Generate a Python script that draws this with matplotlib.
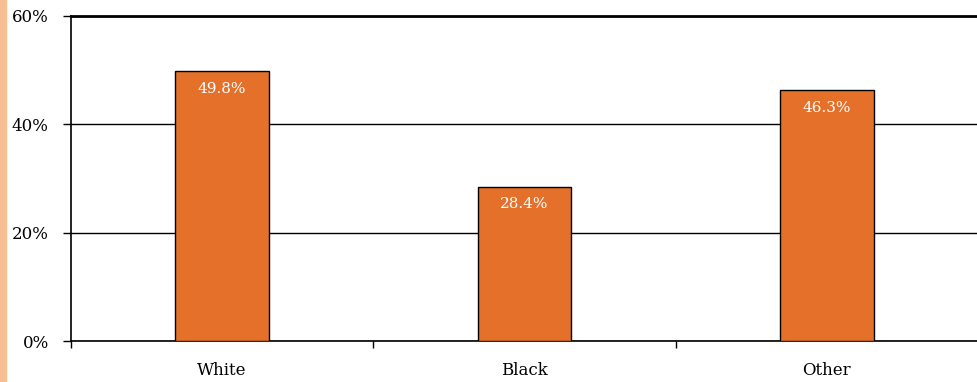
import matplotlib
matplotlib.use('Agg')
import matplotlib.pyplot as plt
from matplotlib.patches import Rectangle

# data
categories = ['White', 'Black', 'Other']
values = [49.8, 28.4, 46.3]
y_ticks = [0, 20, 40, 60]

plt.rcParams['font.family'] = ['DejaVu Serif']

fig = plt.figure(figsize=(9.78, 3.82), dpi=100)
# peach strip along left edge
fig.patches.append(Rectangle((0, 0), 6 / 978, 1, transform=fig.transFigure,
                             color='#F5BF93', zorder=0))

ax = fig.add_axes([71 / 978, 41 / 382, 907 / 978, 325 / 382])
x = range(len(categories))
bars = ax.bar(x, values, width=0.31, color='#E4702A', edgecolor='black',
              linewidth=1, zorder=3)
for xi, v in zip(x, values):
    ax.text(xi, v - 1.9, '%.1f%%' % v, ha='center', va='top', color='white',
            fontsize=11, zorder=4)

ax.set_xlim(-0.5, 2.5)
ax.set_ylim(0, 60)
ax.set_yticks(y_ticks)
ax.set_yticklabels(['%d%%' % t for t in y_ticks], fontsize=12)
ax.yaxis.grid(True, color='black', linewidth=1, zorder=0)
ax.tick_params(axis='y', length=6, width=1, color='black', pad=10)

ax.set_xticks(list(x))
ax.set_xticklabels(categories, fontsize=12)
ax.set_xticks([-0.5, 0.5, 1.5], minor=True)
ax.tick_params(axis='x', which='major', length=0, pad=15)
ax.tick_params(axis='x', which='minor', length=5, width=1, color='black')

for s in ['top', 'right']:
    ax.spines[s].set_visible(False)
ax.spines['left'].set_linewidth(1.2)
ax.spines['bottom'].set_linewidth(1.2)
ax.axhline(60, color='black', linewidth=2, clip_on=False, zorder=5)

fig.savefig('out.png', dpi=100)
